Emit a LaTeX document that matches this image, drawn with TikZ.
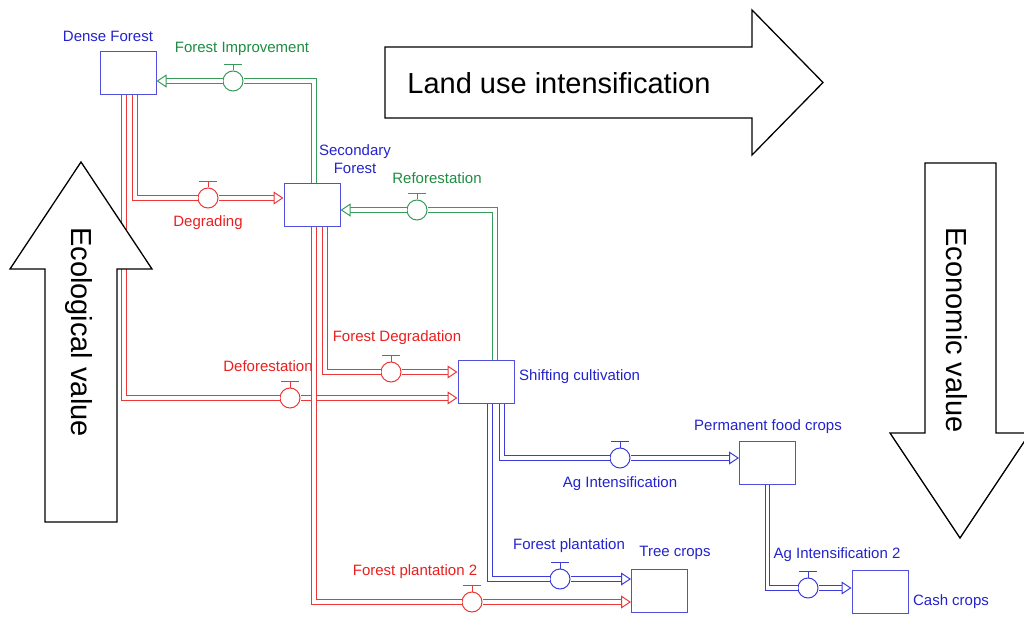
\documentclass[tikz,border=0pt]{standalone}
\usepackage{fontspec}
\setmainfont{Liberation Sans}
\usepackage{tikz}
\usetikzlibrary{arrows.meta}

\definecolor{flowred}{RGB}{235,55,55}
\definecolor{flowgreen}{RGB}{55,155,90}
\definecolor{flowblue}{RGB}{60,60,220}
\definecolor{textred}{RGB}{235,30,30}
\definecolor{textgreen}{RGB}{30,140,65}
\definecolor{textblue}{RGB}{35,35,205}
\definecolor{stockblue}{RGB}{80,80,220}

\begin{document}
\begin{tikzpicture}
		[x=1pt,y=-1pt,line join=miter,
		%Styles
		stock/.style={draw=stockblue,fill=white,line width=1pt,minimum width=56pt,minimum height=43pt,inner sep=0pt},
		valve/.style={circle,draw=#1,fill=white,line width=1pt,minimum size=20pt,inner sep=0pt},
		pipe/.style={draw=#1,line width=1.1pt,double=white,double distance=3.4pt,
			-{Triangle[length=10pt,width=13pt,line width=1pt,fill=white]}},
		small text/.style={text=#1,font=\fontsize{15}{18}\selectfont,inner sep=0pt},
		big text/.style={font=\fontsize{29}{34}\selectfont,inner sep=0pt},
		side text/.style={big text,rotate=-90},
		big arrow/.style={draw=black,fill=white,line width=1.3pt}
		]
		
		\useasboundingbox (0,0) rectangle (1024,617);
		\clip (0,0) rectangle (1024,617);
		
		%Stocks
		\node[stock] (dense) at (128,73) {};
		\node[stock] (secondary) at (312,205) {};
		\node[stock] (shifting) at (486,381.5) {};
		\node[stock] (permanent) at (767.5,462.5) {};
		\node[stock] (treecrops) at (659.5,591) {};
		\node[stock] (cashcrops) at (880,591.5) {};
		
		%Valves
		\node[valve=flowgreen] (improve) at (233,81) {};
		\node[valve=flowred] (degrade) at (208,198) {};
		\node[valve=flowred] (deforest) at (290,398) {};
		\node[valve=flowred] (forestdeg) at (391,372) {};
		\node[valve=flowred] (plant2) at (472,602) {};
		\node[valve=flowgreen] (reforest) at (417,210) {};
		\node[valve=flowblue] (agint) at (620,458) {};
		\node[valve=flowblue] (plant) at (560,579) {};
		\node[valve=flowblue] (agint2) at (808,588) {};
		
		\foreach \v/\c in {improve/flowgreen,degrade/flowred,deforest/flowred,forestdeg/flowred,
			plant2/flowred,reforest/flowgreen,agint/flowblue,plant/flowblue,agint2/flowblue}
			\draw[\c,line width=1pt] (\v.north) -- ++(0,-6) ++(-9,0) -- ++(18,0);
		
		%Flows
		\draw[pipe=flowgreen] ([xshift=2pt]secondary.north) |- (improve) -- (improve -| dense.east);
		\draw[pipe=flowred] ([xshift=7pt]dense.south) |- (degrade) -- (degrade -| secondary.west);
		\draw[pipe=flowred] ([xshift=-4pt]dense.south) |- (deforest) -- (deforest -| shifting.west);
		\draw[pipe=flowred] ([xshift=13pt]secondary.south) |- (forestdeg) -- (forestdeg -| shifting.west);
		\draw[pipe=flowred] ([xshift=2pt]secondary.south) |- (plant2) -- (plant2 -| treecrops.west);
		\draw[pipe=flowgreen] ([xshift=9pt]shifting.north) |- (reforest) -- (reforest -| secondary.east);
		\draw[pipe=flowblue] ([xshift=16pt]shifting.south) |- (agint) -- (agint -| permanent.west);
		\draw[pipe=flowblue] ([xshift=4pt]shifting.south) |- (plant) -- (plant -| treecrops.west);
		\draw[pipe=flowblue] (permanent.south) |- (agint2) -- (agint2 -| cashcrops.west);
		
		%Labels
		\node[small text=textblue] (densetext) at (108,36) {Dense Forest};
		\node[small text=textblue,align=center] (secondarytext) at (355,159) {Secondary\\Forest};
		\node[small text=textblue,anchor=west] (shiftingtext) at (519,377) {Shifting cultivation};
		\node[small text=textblue] (permanenttext) at (768,427) {Permanent food crops};
		\node[small text=textblue] (treetext) at (675,553) {Tree crops};
		\node[small text=textblue] (cashtext) at (951,602) {Cash crops};
		\node[small text=textgreen] (improvetext) at (242,49) {Forest Improvement};
		\node[small text=textred] (degradetext) at (208,223) {Degrading};
		\node[small text=textgreen] (reforesttext) at (437,178) {Reforestation};
		\node[small text=textred] (forestdegtext) at (397,338) {Forest Degradation};
		\node[small text=textred] (deforesttext) at (268,366) {Deforestation};
		\node[small text=textblue] (aginttext) at (620,484) {Ag Intensification};
		\node[small text=textblue] (planttext) at (569,546) {Forest plantation};
		\node[small text=textred] (plant2text) at (415,572) {Forest plantation 2};
		\node[small text=textblue] (agint2text) at (837,555) {Ag Intensification 2};
		
		%Big arrows
		\draw[big arrow] (385,47) -- (752,47) -- (752,10) -- (823,82.5) -- (752,155) -- (752,118) -- (385,118) -- cycle;
		\draw[big arrow] (81,162) -- (152,269) -- (117,269) -- (117,522) -- (45,522) -- (45,269) -- (10,269) -- cycle;
		\draw[big arrow] (925,163) -- (996,163) -- (996,433) -- (1030,433) -- (960,538) -- (890,433) -- (925,433) -- cycle;
		\node[big text] (landuse) at (559,83) {Land use intensification};
		\node[side text] (ecological) at (79,332) {Ecological value};
		\node[side text] (economic) at (957,330) {Economic value};
	\end{tikzpicture}
\end{document}
